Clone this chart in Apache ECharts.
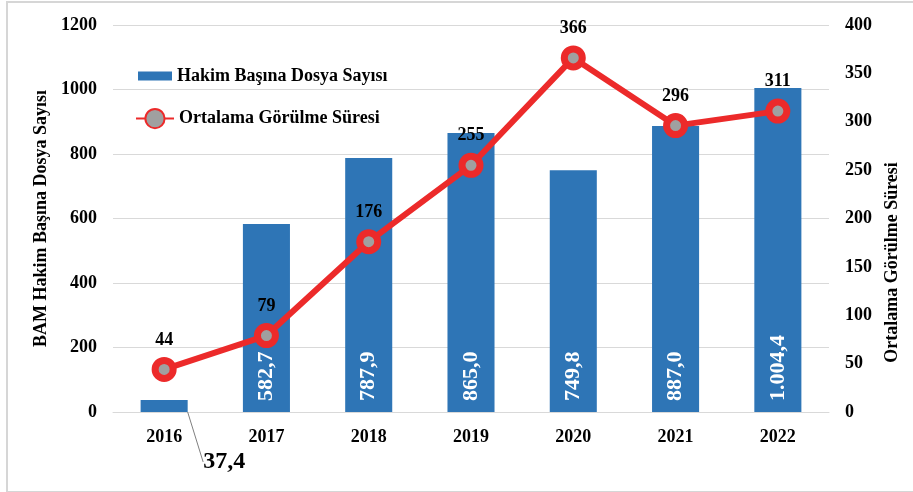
<!DOCTYPE html>
<html>
<head>
<meta charset="utf-8">
<script src="https://cdn.jsdelivr.net/npm/echarts@6/dist/echarts.min.js"></script>
<style>
  html, body { margin: 0; padding: 0; background: #fff; }
  #frame { position: absolute; left: 6px; top: 1px; width: 920px; height: 488px; border: 2px solid #d6d6d6; }
  #chart { position: absolute; left: 0; top: 0; width: 913px; height: 492px; }
</style>
</head>
<body>
<div id="frame"></div>
<div id="chart"></div>
<script>
const years = ['2016', '2017', '2018', '2019', '2020', '2021', '2022']
const dosyaSayisi = [37.4, 582.7, 787.9, 865.0, 749.8, 887.0, 1004.4]
const gorulmeSuresi = [44, 79, 176, 255, 366, 296, 311]

const serif = 'Liberation Serif'
const red = '#ec2a2a'

// 1004.4 -> "1.004,4"
function trNumber(v) {
  let parts = v.toFixed(1).split('.')
  let intPart = parts[0].replace(/\B(?=(\d{3})+(?!\d))/g, '.')
  return intPart + ',' + parts[1]
}

const barData = dosyaSayisi.map((v, i) => {
  if (i === 0) {
    return {
      value: v,
      label: {
        rotate: 0,
        position: 'inside',
        color: '#000',
        fontSize: 24,
        fontWeight: 'bold',
        align: 'center',
        verticalAlign: 'middle'
      },
      labelLine: { show: true, lineStyle: { color: '#7f7f7f', width: 1 } }
    }
  }
  return v
})

const boldText = { color: '#000', fontSize: 18, fontWeight: 'bold', fontFamily: serif }

const chart = echarts.init(document.getElementById('chart'))
chart.setOption({
  animation: false,
  textStyle: { fontFamily: serif },
  grid: { left: 113, right: 84, top: 25, bottom: 80 },
  legend: [{
    data: ['Hakim Başına Dosya Sayısı'],
    left: 133,
    top: 62,
    icon: 'rect',
    itemWidth: 34,
    itemHeight: 9,
    itemGap: 4,
    textStyle: boldText
  }, {
    data: ['Ortalama Görülme Süresi'],
    left: 130,
    top: 103,
    itemWidth: 38,
    itemHeight: 24,
    itemGap: 4,
    textStyle: boldText
  }],
  xAxis: {
    type: 'category',
    data: years,
    axisTick: { show: false },
    axisLine: { lineStyle: { color: '#d9d9d9', width: 1 } },
    axisLabel: Object.assign({ margin: 16 }, boldText)
  },
  yAxis: [{
    type: 'value',
    min: 0,
    max: 1200,
    interval: 200,
    name: 'BAM Hakim Başına Dosya Sayısı',
    nameLocation: 'middle',
    nameGap: 57,
    nameTextStyle: boldText,
    axisLine: { show: false },
    axisTick: { show: false },
    axisLabel: Object.assign({ margin: 16, formatter: v => String(v) }, boldText),
    splitLine: { lineStyle: { color: '#d9d9d9', width: 1 } }
  }, {
    type: 'value',
    min: 0,
    max: 400,
    interval: 50,
    name: 'Ortalama Görülme Süresi',
    nameLocation: 'middle',
    nameRotate: 90,
    nameGap: 50,
    nameTextStyle: Object.assign({ padding: [0, 88, 0, 0] }, boldText),
    axisLine: { show: false },
    axisTick: { show: false },
    axisLabel: Object.assign({ margin: 16 }, boldText),
    splitLine: { show: false }
  }],
  series: [{
    name: 'Hakim Başına Dosya Sayısı',
    type: 'bar',
    yAxisIndex: 0,
    barWidth: '46%',
    data: barData,
    itemStyle: { color: '#2e75b6' },
    label: {
      show: true,
      position: 'insideBottom',
      rotate: 90,
      align: 'left',
      verticalAlign: 'middle',
      distance: 11,
      color: '#fff',
      fontSize: 22,
      fontWeight: 'bold',
      fontFamily: serif,
      formatter: p => trNumber(p.value)
    },
    labelLayout: params => params.dataIndex === 0 ? { dx: 60, dy: 56 } : {}
  }, {
    name: 'Ortalama Görülme Süresi',
    type: 'line',
    yAxisIndex: 1,
    data: gorulmeSuresi,
    symbol: 'circle',
    symbolSize: 18,
    lineStyle: { color: red, width: 6 },
    itemStyle: { color: '#a0a0a0', borderColor: red, borderWidth: 7 },
    label: Object.assign({ show: true, position: 'top', distance: 8 }, boldText),
    z: 5
  }]
})
</script>
</body>
</html>
